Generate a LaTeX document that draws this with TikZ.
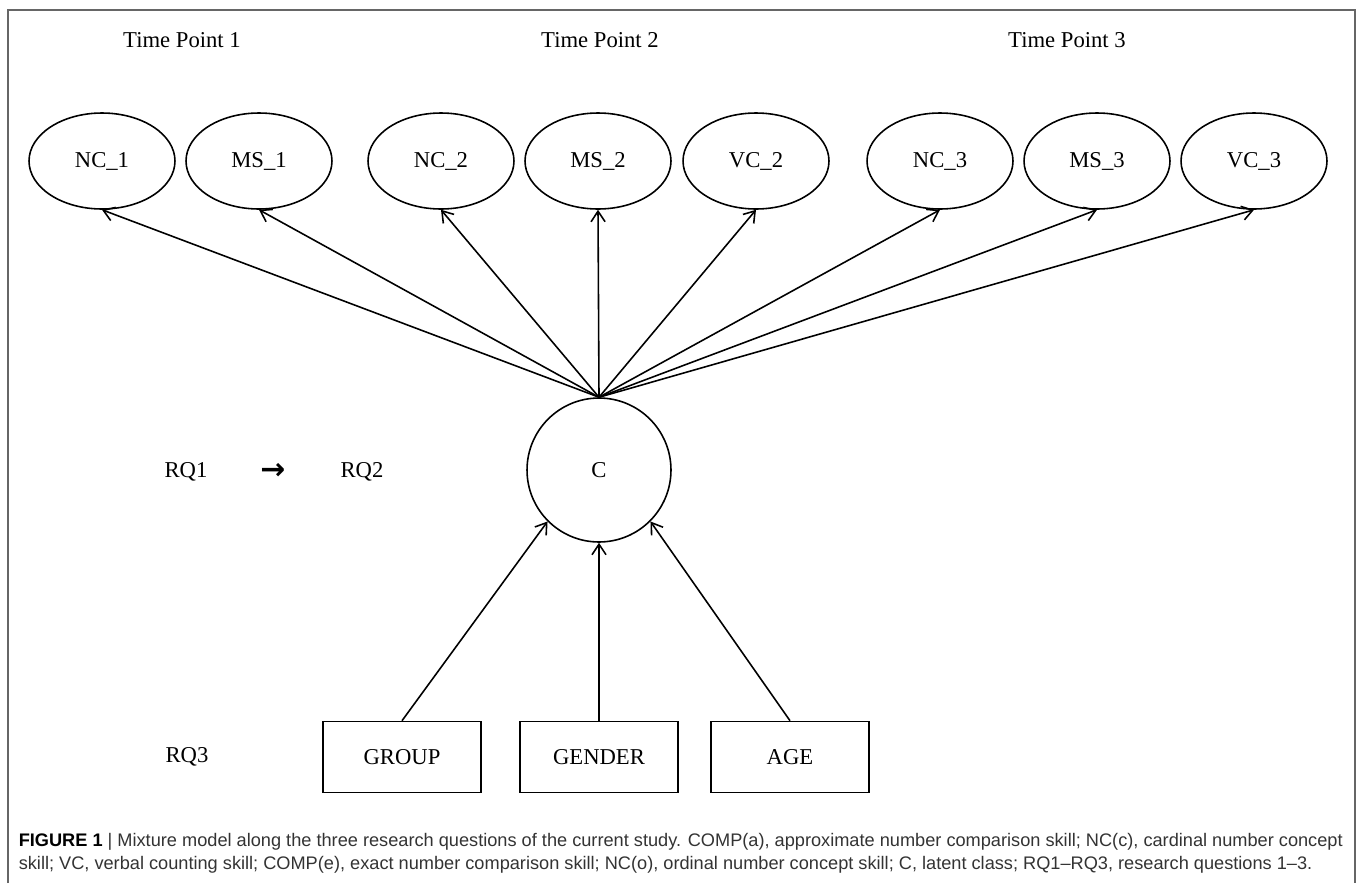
\documentclass[tikz,border=0pt]{standalone}
\usepackage{fontspec}
\setmainfont{Liberation Serif}
\setsansfont{Liberation Sans}
\newfontfamily\arrowfont{DejaVu Sans}
\usetikzlibrary{shapes.geometric,arrows.meta}

\begin{document}
\begin{tikzpicture}[x=0.02cm, y=-0.02cm, line width=0.9pt,
  >={Straight Barb[length=6pt,width=8pt]},
  every node/.style={font=\fontsize{12.9}{15}\selectfont},
  latent/.style={draw, ellipse, minimum width=2.92cm, minimum height=1.92cm, inner sep=0pt},
  cls/.style={draw, circle, minimum size=2.88cm, inner sep=0pt},
  obs/.style={draw, rectangle, minimum width=3.16cm, minimum height=1.42cm, inner sep=0pt},
  capline/.style={anchor=base west, inner sep=0pt, text=black!80, font=\sffamily\fontsize{10.35}{12}\selectfont}]
  \useasboundingbox (0,0) rectangle (1358,883);
  \draw[line width=1.1pt, black!60] (8,883) -- (8,10) -- (1355,10) -- (1355,883);
  \node (tp1) at (182,40) {Time Point 1};
  \node (tp2) at (600,40) {Time Point 2};
  \node (tp3) at (1067,40) {Time Point 3};
  \foreach \name/\lab/\x in {nc1/NC\_1/102, ms1/MS\_1/259, nc2/NC\_2/441, ms2/MS\_2/598,
      vc2/VC\_2/756, nc3/NC\_3/940, ms3/MS\_3/1097, vc3/VC\_3/1254}
    \node[latent] (\name) at (\x,161) {\lab};
  \node[cls] (C) at (599,470) {C};
  \foreach \name in {nc1,ms1,nc2,ms2,vc2,nc3,ms3,vc3}
    \draw[->] (C.north) -- (\name.south);
  \node[obs] (group) at (402,757) {GROUP};
  \node[obs] (gender) at (599,757) {GENDER};
  \node[obs] (age) at (790,757) {AGE};
  \draw[->] (group.north) -- (C.225);
  \draw[->] (gender.north) -- (C.south);
  \draw[->] (age.north) -- (C.-45);
  \node (rq1) at (186,472) {RQ1};
  \node (rqarrow) at (273,471) {\arrowfont\bfseries\fontsize{17}{17}\selectfont →};
  \node (rq2) at (362,472) {RQ2};
  \node (rq3) at (187,757) {RQ3};
  \node[capline] (cap1) at (18,846) {{\bfseries\color{black}FIGURE 1} | Mixture model along the three research questions of the current study. COMP(a), approximate number comparison skill; NC(c), cardinal number concept};
  \node[capline] (cap2) at (18,869) {skill; VC, verbal counting skill; COMP(e), exact number comparison skill; NC(o), ordinal number concept skill; C, latent class; RQ1–RQ3, research questions 1–3.};
\end{tikzpicture}
\end{document}
